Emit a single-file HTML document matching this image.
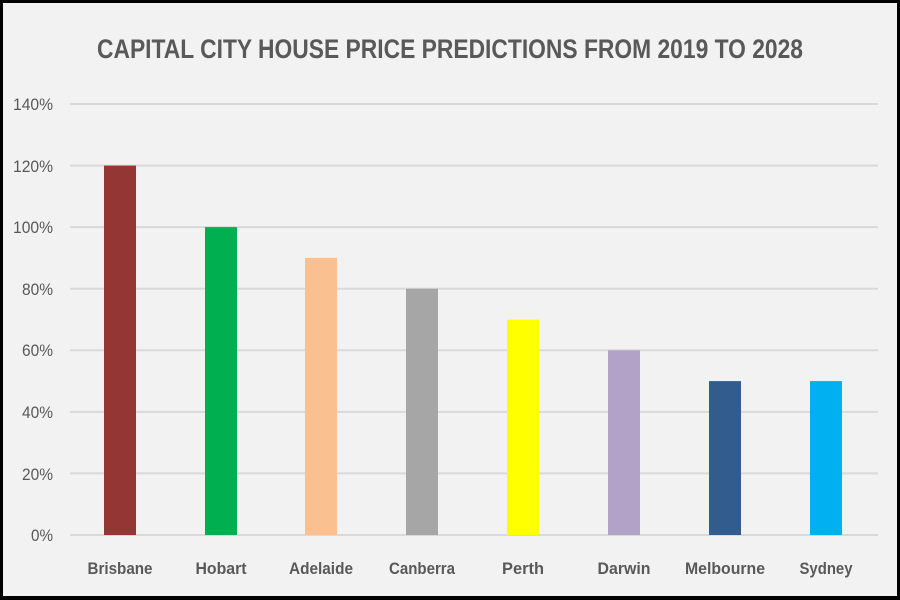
<!DOCTYPE html>
<html><head><style>
body{margin:0;background:#000;}
svg{display:block;}
text{font-family:"Liberation Sans",sans-serif;fill:#595959;}
</style></head><body>
<svg width="900" height="600" xmlns="http://www.w3.org/2000/svg">
<rect x="0" y="0" width="900" height="600" fill="#000"/>
<rect x="3" y="3" width="894" height="593" fill="#f2f2f2"/>
<text x="450" y="58" text-anchor="middle" font-size="27" font-weight="bold" textLength="706" lengthAdjust="spacingAndGlyphs">CAPITAL CITY HOUSE PRICE PREDICTIONS FROM 2019 TO 2028</text>
<g stroke="#d9d9d9" stroke-width="2">
<line x1="70" x2="878" y1="104" y2="104"/>
<line x1="70" x2="878" y1="165.6" y2="165.6"/>
<line x1="70" x2="878" y1="227.1" y2="227.1"/>
<line x1="70" x2="878" y1="288.7" y2="288.7"/>
<line x1="70" x2="878" y1="350.3" y2="350.3"/>
<line x1="70" x2="878" y1="411.9" y2="411.9"/>
<line x1="70" x2="878" y1="473.4" y2="473.4"/>
<line x1="70" x2="878" y1="535" y2="535"/>
</g>
<g font-size="17" text-anchor="end">
<text x="53" y="110" textLength="40" lengthAdjust="spacingAndGlyphs">140%</text>
<text x="53" y="172" textLength="40" lengthAdjust="spacingAndGlyphs">120%</text>
<text x="53" y="233" textLength="40" lengthAdjust="spacingAndGlyphs">100%</text>
<text x="53" y="295" textLength="31" lengthAdjust="spacingAndGlyphs">80%</text>
<text x="53" y="356" textLength="31" lengthAdjust="spacingAndGlyphs">60%</text>
<text x="53" y="418" textLength="31" lengthAdjust="spacingAndGlyphs">40%</text>
<text x="53" y="480" textLength="31" lengthAdjust="spacingAndGlyphs">20%</text>
<text x="53" y="541" textLength="22" lengthAdjust="spacingAndGlyphs">0%</text>
</g>
<rect x="104" y="165.6" width="32" height="369.4" fill="#943634"/>
<rect x="205" y="227.1" width="32" height="307.9" fill="#00b050"/>
<rect x="305" y="257.9" width="32" height="277.1" fill="#fac090"/>
<rect x="406" y="288.7" width="32" height="246.3" fill="#a6a6a6"/>
<rect x="507" y="319.5" width="32" height="215.5" fill="#ffff00"/>
<rect x="608" y="350.3" width="32" height="184.7" fill="#b3a2c7"/>
<rect x="709" y="381.1" width="32" height="153.9" fill="#335c8e"/>
<rect x="810" y="381.1" width="32" height="153.9" fill="#00b0f0"/>
<g font-size="17" text-anchor="middle" font-weight="bold">
<text x="120" y="574" textLength="65" lengthAdjust="spacingAndGlyphs">Brisbane</text>
<text x="221" y="574" textLength="51" lengthAdjust="spacingAndGlyphs">Hobart</text>
<text x="321" y="574" textLength="64" lengthAdjust="spacingAndGlyphs">Adelaide</text>
<text x="422" y="574" textLength="66" lengthAdjust="spacingAndGlyphs">Canberra</text>
<text x="523" y="574" textLength="42" lengthAdjust="spacingAndGlyphs">Perth</text>
<text x="624" y="574" textLength="53" lengthAdjust="spacingAndGlyphs">Darwin</text>
<text x="725" y="574" textLength="80" lengthAdjust="spacingAndGlyphs">Melbourne</text>
<text x="826" y="574" textLength="53" lengthAdjust="spacingAndGlyphs">Sydney</text>
</g>
</svg>
</body></html>
